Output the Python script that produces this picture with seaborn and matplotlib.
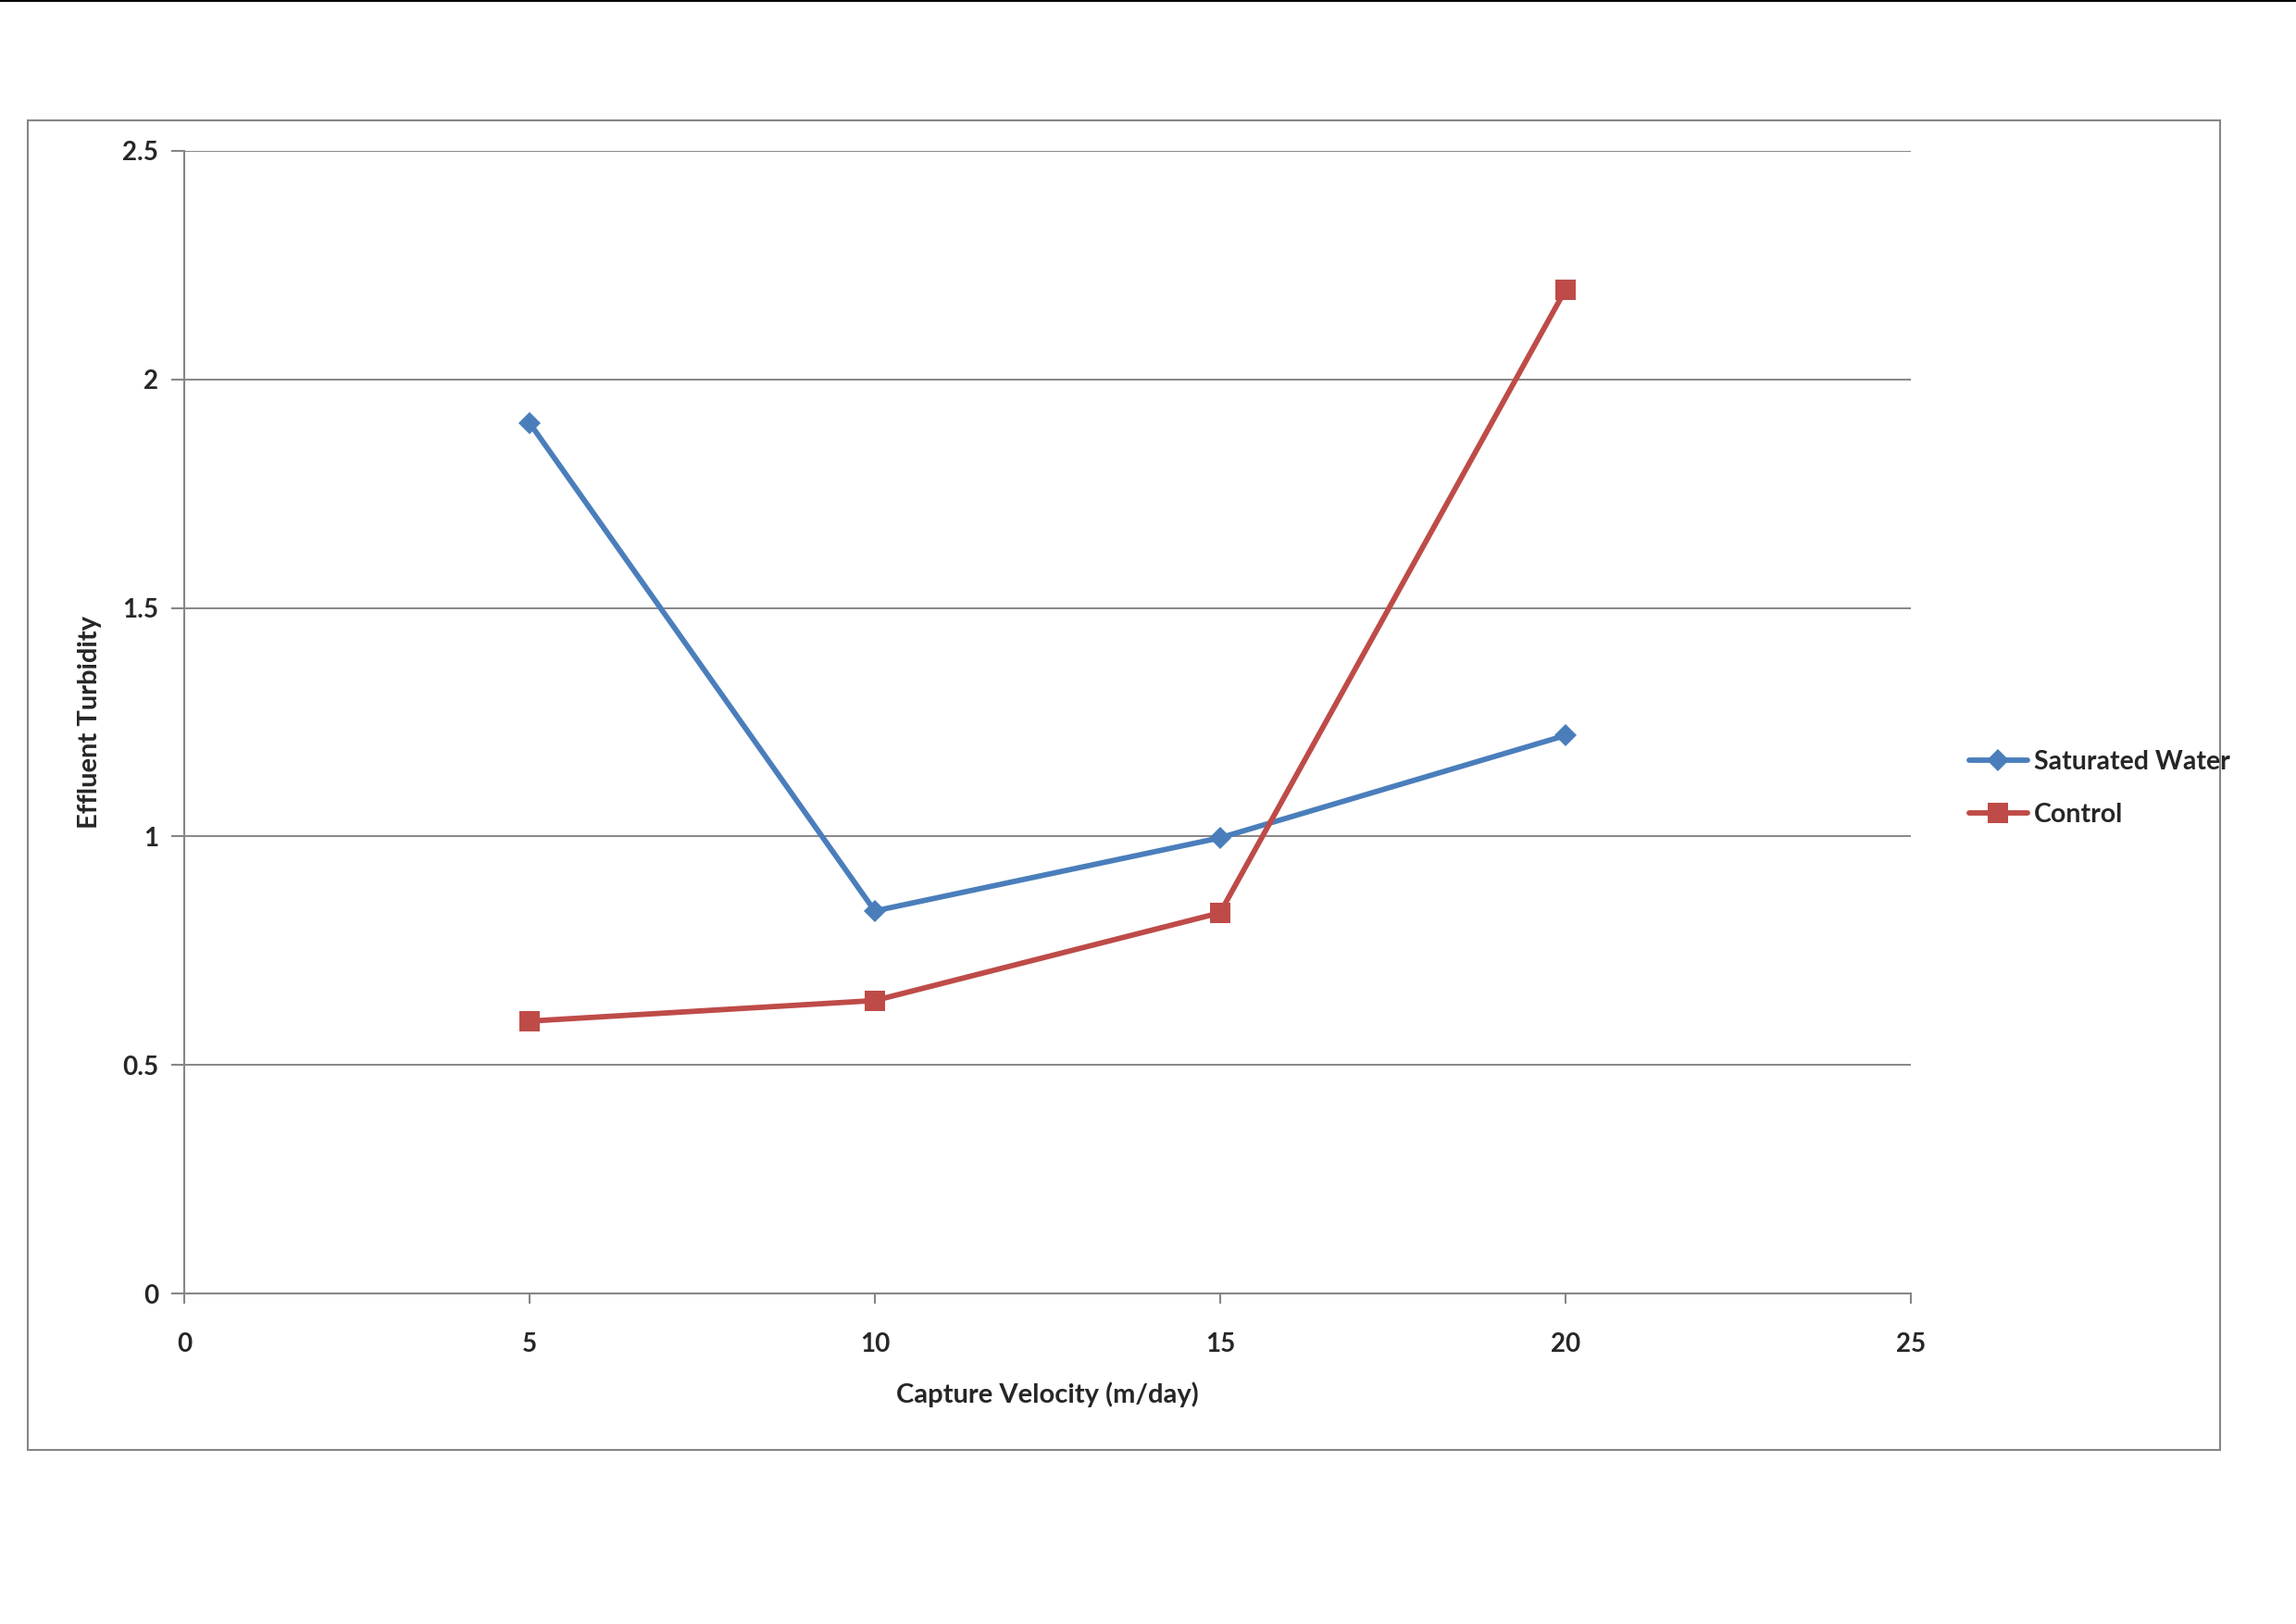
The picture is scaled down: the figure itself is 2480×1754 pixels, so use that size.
import matplotlib
matplotlib.use("Agg")
import matplotlib.pyplot as plt
import pandas as pd
import seaborn as sns
from matplotlib.lines import Line2D
from matplotlib.patches import Rectangle

# values
velocity = [5, 10, 15, 20]
saturated_water = [1.905, 0.837, 0.997, 1.221]
control = [0.596, 0.641, 0.833, 2.196]
series_names = ["Saturated Water", "Control"]
x_ticks = [0, 5, 10, 15, 20, 25]
y_ticks = [0, 0.5, 1, 1.5, 2, 2.5]

df = pd.DataFrame({
    "velocity": velocity * 2,
    "turbidity": saturated_water + control,
    "series": [series_names[0]] * len(velocity) + [series_names[1]] * len(velocity),
})

sns.set_theme(style="white")
plt.rcParams["font.family"] = ["Lato", "DejaVu Sans"]

grey = "#868686"
colors = {"Saturated Water": "#4A7EBB", "Control": "#BE4B48"}

fig = plt.figure(figsize=(24.8, 17.54), dpi=100)
ax = fig.add_axes([0.0802, 0.2035, 0.752, 0.7036])

sns.lineplot(
    data=df, x="velocity", y="turbidity", hue="series", style="series",
    palette=colors, markers={"Saturated Water": "D", "Control": "s"},
    dashes=False, linewidth=4.2, markersize=13, markeredgewidth=0,
    legend=False, ax=ax,
)
# square markers look larger in the reference
for line in ax.get_lines():
    if line.get_marker() == "s":
        line.set_markersize(16)
    elif line.get_marker() == "D":
        line.set_markersize(12)

ax.set_xlim(0, 25)
ax.set_ylim(0, 2.5)
ax.set_xticks(x_ticks)
ax.set_yticks(y_ticks)
ax.set_xticklabels([str(v) for v in x_ticks])
ax.set_yticklabels(["0", "0.5", "1", "1.5", "2", "2.5"])
ax.yaxis.grid(True, color=grey, linewidth=1.4)
ax.xaxis.grid(False)

for side in ["top", "right"]:
    ax.spines[side].set_visible(False)
for side in ["left", "bottom"]:
    ax.spines[side].set_color(grey)
    ax.spines[side].set_linewidth(1.5)

ax.tick_params(axis="y", direction="out", length=10, width=1.5, color=grey,
               left=True, labelsize=20, pad=10)
ax.tick_params(axis="x", direction="out", length=8, width=1.5, color=grey,
               bottom=True, labelsize=20, pad=22)
for lab in ax.get_xticklabels() + ax.get_yticklabels():
    lab.set_fontweight("bold")

ax.set_xlabel("Capture Velocity (m/day)", fontsize=21, fontweight="bold", labelpad=20)
ax.set_ylabel("Effluent Turbidity", fontsize=21, fontweight="bold", labelpad=16)

handles = [
    Line2D([], [], color=colors["Saturated Water"], marker="D", markersize=12,
           markeredgewidth=0, linewidth=4.2),
    Line2D([], [], color=colors["Control"], marker="s", markersize=16,
           markeredgewidth=0, linewidth=4.2),
]
fig.legend(handles, series_names, loc="center left", bbox_to_anchor=(0.8577, 0.5147),
           frameon=False, borderpad=0, borderaxespad=0, handlelength=2.2,
           handletextpad=0.25, labelspacing=1.1,
           prop={"size": 20.5, "weight": "bold"})

# outer chart border and the top edge line
fig.patches.append(Rectangle((0.0121, 0.1072), 0.9549, 0.8187, transform=fig.transFigure,
                             fill=False, edgecolor=grey, linewidth=1.5))
fig.lines.append(Line2D([0, 1], [0.9995, 0.9995], transform=fig.transFigure,
                        color="black", linewidth=1.5))

fig.savefig("out.png", dpi=100, facecolor="white")
